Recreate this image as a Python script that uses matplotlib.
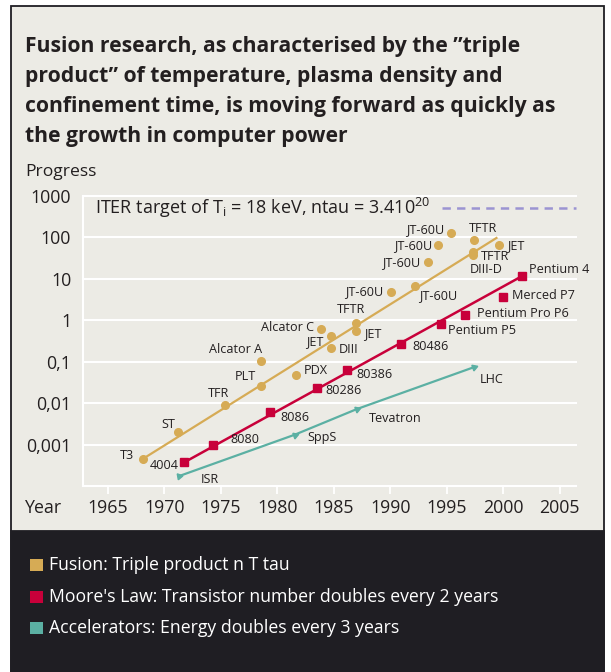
import matplotlib
matplotlib.use('Agg')
import matplotlib.pyplot as plt
from matplotlib.patches import Rectangle
from matplotlib.ticker import FixedLocator, FixedFormatter, NullLocator

plt.rcParams['font.family'] = ['Open Sans', 'DejaVu Sans']
plt.rcParams['mathtext.default'] = 'regular'
plt.rcParams['lines.scale_dashes'] = False

# ---------------- data ----------------
fusion_names = ['T3', 'ST', 'TFR', 'PLT', 'Alcator A', 'PDX', 'Alcator C', 'JET', 'DIII',
                'TFTR', 'JET', 'JT-60U', 'JT-60U', 'JT-60U', 'JT-60U', 'JT-60U',
                'TFTR', 'JET', 'TFTR', 'DIII-D']
fusion_years = [1968.1, 1971.2, 1975.4, 1978.6, 1978.6, 1981.7, 1983.85, 1984.8, 1984.8,
                1986.95, 1986.95, 1990.1, 1992.2, 1993.3, 1994.25, 1995.4,
                1997.4, 1999.6, 1997.35, 1997.35]
fusion_values = [0.00045, 0.0020, 0.0089, 0.026, 0.106, 0.048, 0.60, 0.42, 0.21,
                 0.86, 0.55, 4.8, 6.9, 25, 65, 131,
                 87, 67, 44, 37]
fusion_trend_years = [1968.1, 1999.4]
fusion_trend_values = [0.00045, 97]

moore_names = ['4004', '8080', '8086', '80286', '80386', '80486', 'Pentium P5',
               'Pentium Pro P6', 'Merced P7', 'Pentium 4']
moore_years = [1971.75, 1974.3, 1979.35, 1983.5, 1986.15, 1990.95, 1994.5, 1996.6, 2000.0, 2001.65]
moore_values = [0.00037, 0.00097, 0.0060, 0.0228, 0.062, 0.268, 0.80, 1.32, 3.65, 11.6]
moore_trend_years = [1971.75, 2001.65]
moore_trend_values = [0.00037, 11.6]

accel_names = ['ISR', 'SppS', 'Tevatron', 'LHC']
accel_years = [1971.3, 1981.55, 1987.05, 1997.45]
accel_values = [0.000173, 0.00173, 0.0072, 0.0745]

iter_value = 520
iter_start_year = 1994.55

ytick_values = [0.001, 0.01, 0.1, 1, 10, 100, 1000]
ytick_labels = ['0,001', '0,01', '0,1', '1', '10', '100', '1000']
xtick_years = [1965, 1970, 1975, 1980, 1985, 1990, 1995, 2000, 2005]

title_lines = ['Fusion research, as characterised by the \u201dtriple',
               'product\u201d of temperature, plasma density and',
               'confinement time, is moving forward as quickly as',
               'the growth in computer power']
legend_labels = ['Fusion: Triple product n T tau',
                 "Moore's Law: Transistor number doubles every 2 years",
                 'Accelerators: Energy doubles every 3 years']

# ---------------- styles ----------------
W, H, DPI = 611, 672, 100
BG = '#ecebe5'
DARK = '#1f1e23'
TXT = '#231f20'
C_FUS = '#d6ab55'
C_MOO = '#c8003a'
C_ACC = '#5bb0a3'
C_ITER = '#9b94d2'

fusion_offsets = [(-9, 3, 'right'), (-3, 8, 'right'), (4, 12, 'right'), (-5, 9, 'right'),
                  (1, 11, 'right'), (7, 4, 'left'), (-7, 2, 'right'), (-8, -6, 'right'),
                  (7, -1, 'left'), (-5, 13, 'center'), (8, -3, 'left'), (-8, 1, 'right'),
                  (4, -10, 'left'), (-7, 0, 'right'), (-6, 0, 'right'), (-7, 3, 'right'),
                  (9, 11, 'center'), (8, -1, 'left'), (8, -4, 'left'), (-4, -14, 'left')]
moore_offsets = [(-5, -3, 'right'), (18, 6, 'left'), (10, -5, 'left'), (9, -2, 'left'),
                 (10, -4, 'left'), (11, -3, 'left'), (7, -6, 'left'), (12, 2, 'left'),
                 (9, 1, 'left'), (7, 7, 'left')]
accel_offsets = [(22, -3, 'left'), (13, -3, 'left'), (12, -9, 'left'), (5, -12, 'left')]


def fx(px):
    return px / W


def fy(py):
    return 1 - py / H


fig = plt.figure(figsize=(W / DPI, H / DPI), dpi=DPI, facecolor='white')

# frame and dark legend panel
fig.patches.append(Rectangle((fx(10.5), fy(672)), fx(604) - fx(10.5), fy(5.5) - fy(672),
                             transform=fig.transFigure, facecolor=BG, edgecolor=DARK,
                             linewidth=1.3, zorder=-10))
fig.patches.append(Rectangle((fx(10.5), fy(672)), fx(604) - fx(10.5), fy(530.5) - fy(672),
                             transform=fig.transFigure, facecolor=DARK, edgecolor=DARK,
                             linewidth=1.3, zorder=-9))

# title
for i, line in enumerate(title_lines):
    fig.text(fx(25), fy(52 + 30 * i), line, fontsize=15.2, fontweight='bold', color=TXT,
             ha='left', va='baseline')
fig.text(fx(25), fy(176), 'Progress', fontsize=12.6, color=TXT, ha='left', va='baseline')

ax = fig.add_axes([fx(83), fy(486), fx(576) - fx(83), fy(196) - fy(486)])
ax.set_facecolor('none')
ax.set_yscale('log')
ax.set_xlim(1962.81, 2006.44)
ax.set_ylim(1e-4, 1e3)
for s in ['top', 'right']:
    ax.spines[s].set_visible(False)
for s in ['left', 'bottom']:
    ax.spines[s].set_color('white')
    ax.spines[s].set_linewidth(1.5)
for v in ytick_values:
    ax.axhline(v, color='white', linewidth=1.5, zorder=1, clip_on=False)

ax.yaxis.set_major_locator(FixedLocator(ytick_values))
ax.yaxis.set_major_formatter(FixedFormatter(ytick_labels))
ax.yaxis.set_minor_locator(NullLocator())
ax.set_xticks(xtick_years)
ax.set_xticklabels([str(y) for y in xtick_years])
ax.tick_params(axis='y', length=0, pad=8.5, labelsize=12.8, labelcolor=TXT)
ax.tick_params(axis='x', length=5.5, width=1.3, color='white', pad=4, labelsize=12.8,
               labelcolor=TXT)
fig.text(fx(25), fy(508), 'Year', fontsize=12.8, color=TXT, ha='left', va='center')

# ITER target
ax.plot([iter_start_year, 2006.44], [iter_value, iter_value], color=C_ITER, linewidth=1.8,
        dashes=(6, 4.5), clip_on=False, zorder=2)
ax.text(1963.9, iter_value, r'ITER target of T$_{i}$ = 18 keV, ntau = 3.410$^{20}$',
        fontsize=13, color=TXT, ha='left', va='center')

# trend lines
ax.plot(fusion_trend_years, fusion_trend_values, color=C_FUS, linewidth=1.6, zorder=3)
ax.plot(moore_trend_years, moore_trend_values, color=C_MOO, linewidth=1.8, zorder=3)
ax.plot(accel_years, accel_values, color=C_ACC, linewidth=1.6, zorder=3)

# markers
ax.plot(fusion_years, fusion_values, 'o', color=C_FUS, markersize=5.5, zorder=4)
ax.plot(moore_years, moore_values, 's', color=C_MOO, markersize=6.3, zorder=4)
for i, (yr, v) in enumerate(zip(accel_years, accel_values)):
    ang = 160 if i == 0 else -70
    ax.plot([yr], [v], marker=(3, 0, ang), color=C_ACC, markersize=5, zorder=4,
            linestyle='none')


def label_points(names, years, values, offsets):
    for n, yr, v, (dx, dy, ha) in zip(names, years, values, offsets):
        ax.annotate(n, (yr, v), xytext=(dx, dy), textcoords='offset pixels', ha=ha,
                    va='center', fontsize=9.1, color=TXT, zorder=5)


label_points(fusion_names, fusion_years, fusion_values, fusion_offsets)
label_points(moore_names, moore_years, moore_values, moore_offsets)
label_points(accel_names, accel_years, accel_values, accel_offsets)

# legend in dark panel
for i, (lab, col) in enumerate(zip(legend_labels, [C_FUS, C_MOO, C_ACC])):
    yc = 565 + 31.5 * i
    fig.patches.append(Rectangle((fx(29.5), fy(yc + 6)), fx(13), 12 / H,
                                 transform=fig.transFigure, facecolor=col,
                                 edgecolor='none', zorder=1))
    fig.text(fx(49), fy(yc), lab, fontsize=12.7, color='white', ha='left', va='center')

fig.savefig('out.png', dpi=DPI, facecolor='white')
